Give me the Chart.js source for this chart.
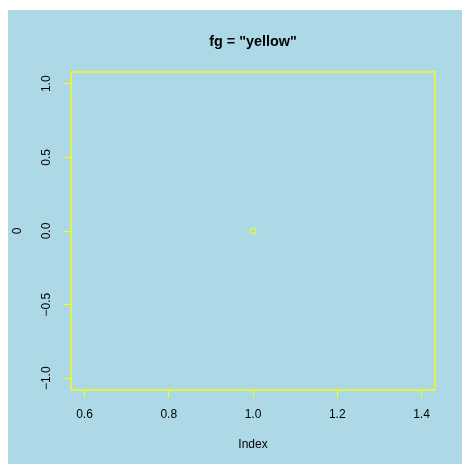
<!DOCTYPE html>
<html>
<head>
<meta charset="utf-8">
<script src="https://cdn.jsdelivr.net/npm/chart.js@4/dist/chart.umd.min.js"></script>
<style>
  html, body { margin: 0; padding: 0; background: #ffffff; }
  canvas { display: block; }
</style>
</head>
<body>
<canvas id="plot" width="462" height="464"></canvas>
<script>
// data
const xValues = [1];
const yValues = [0];
const xTicks = [0.6, 0.8, 1.0, 1.2, 1.4];
const yTicks = [-1.0, -0.5, 0.0, 0.5, 1.0];
const xRange = [0.568, 1.432];
const yRange = [-1.08, 1.08];

const mainTitle = 'fg = "yellow"';
const xLabel = "Index";
const yLabel = "0";

const FG = "#ffff00";
const BG = "#add8e6";
const FONT = "'Liberation Sans', Arial, Helvetica, sans-serif";

// R style labels with a real minus sign
function fmt(v) {
  const s = Math.abs(v).toFixed(1);
  return v < 0 ? "\u2212" + s : s;
}

// light blue panel with a white strip on the top and left
const backgroundPanel = {
  id: "backgroundPanel",
  beforeDraw(chart) {
    const ctx = chart.ctx;
    ctx.save();
    ctx.fillStyle = "#ffffff";
    ctx.fillRect(0, 0, chart.width, chart.height);
    ctx.fillStyle = BG;
    ctx.fillRect(8, 10, chart.width - 8, chart.height - 10);
    ctx.restore();
  },
};

// box round the plot region
const plotBox = {
  id: "plotBox",
  afterDraw(chart) {
    const a = chart.chartArea;
    const ctx = chart.ctx;
    ctx.save();
    ctx.strokeStyle = FG;
    ctx.lineWidth = 1.3;
    ctx.strokeRect(a.left, a.top, a.right - a.left, a.bottom - a.top);
    ctx.restore();
  },
};

const points = xValues.map((x, i) => ({ x: x, y: yValues[i] }));

new Chart(document.getElementById("plot"), {
  type: "scatter",
  data: {
    datasets: [
      {
        data: points,
        xAxisID: "x",
        yAxisID: "y",
        pointStyle: "circle",
        pointRadius: 3,
        pointHoverRadius: 3,
        borderColor: FG,
        backgroundColor: "rgba(0,0,0,0)",
        borderWidth: 1,
      },
    ],
  },
  options: {
    responsive: false,
    animation: false,
    devicePixelRatio: 1,
    layout: { padding: { left: 0, top: 0, right: 27, bottom: 0 } },
    plugins: {
      legend: { display: false },
      tooltip: { enabled: false },
      title: { display: false },
    },
    scales: {
      x: {
        type: "linear",
        position: "bottom",
        min: xRange[0],
        max: xRange[1],
        afterBuildTicks(scale) {
          scale.ticks = xTicks.map((v) => ({ value: v }));
        },
        afterFit(scale) {
          scale.height = 74;
        },
        grid: { drawOnChartArea: false, drawTicks: true, tickLength: 8, color: FG, lineWidth: 1 },
        border: { display: false },
        ticks: {
          color: "#000000",
          padding: 9,
          maxRotation: 0,
          autoSkip: false,
          font: { family: FONT, size: 12 },
          callback: (v) => fmt(v),
        },
        title: {
          display: true,
          text: xLabel,
          color: "#000000",
          font: { family: FONT, size: 12 },
          padding: { top: 0, bottom: 12.3 },
        },
      },
      xTop: {
        type: "linear",
        position: "top",
        min: xRange[0],
        max: xRange[1],
        afterFit(scale) {
          scale.height = 72;
        },
        grid: { display: false },
        border: { display: false },
        ticks: { display: false },
        title: {
          display: true,
          text: mainTitle,
          color: "#000000",
          font: { family: FONT, size: 14.4, weight: "bold" },
          padding: { top: 33, bottom: 0 },
        },
      },
      y: {
        type: "linear",
        position: "left",
        min: yRange[0],
        max: yRange[1],
        afterBuildTicks(scale) {
          scale.ticks = yTicks.map((v) => ({ value: v }));
        },
        afterFit(scale) {
          scale.width = 71;
        },
        grid: { drawOnChartArea: false, drawTicks: true, tickLength: 8, color: FG, lineWidth: 1 },
        border: { display: false },
        ticks: {
          color: "#000000",
          padding: 4,
          minRotation: 90,
          maxRotation: 90,
          crossAlign: "center",
          autoSkip: false,
          font: { family: FONT, size: 12 },
          callback: (v) => fmt(v),
        },
        title: {
          display: true,
          text: yLabel,
          color: "#000000",
          font: { family: FONT, size: 12 },
          padding: { top: 10.5, bottom: 0 },
        },
      },
    },
  },
  plugins: [backgroundPanel, plotBox],
});
</script>
</body>
</html>
